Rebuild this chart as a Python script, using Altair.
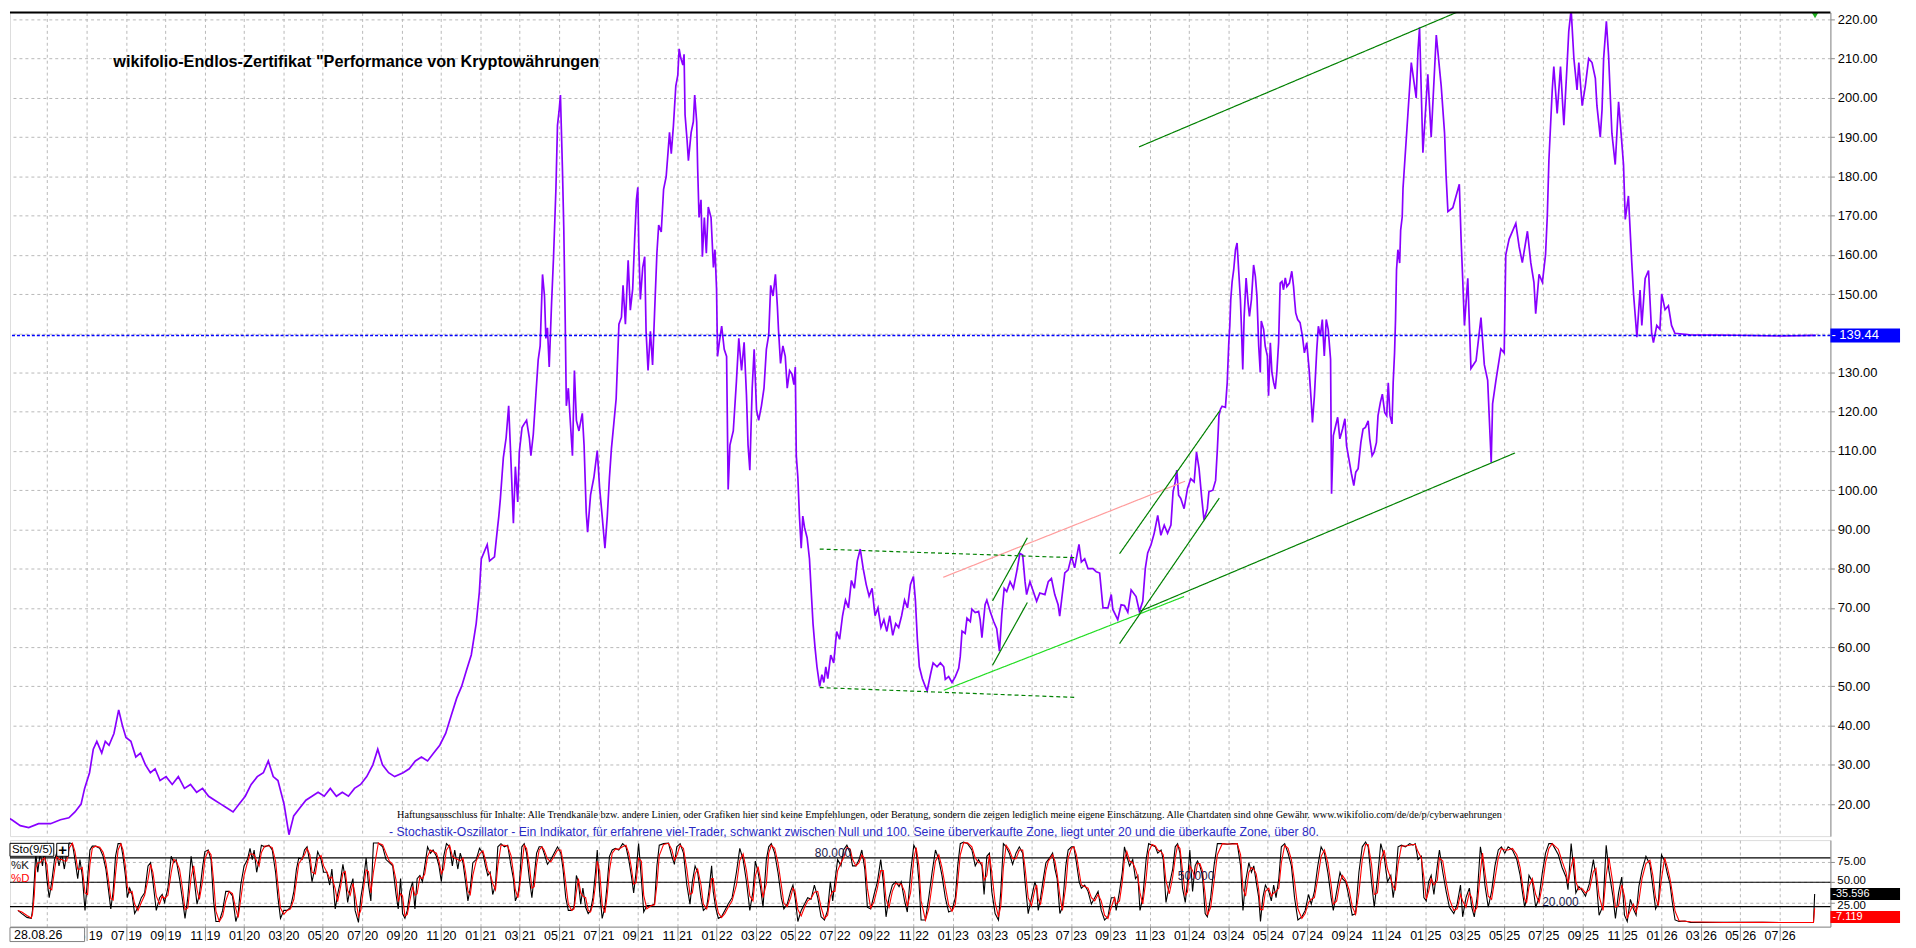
import altair as alt
import pandas as pd

# ---------------- data (x = months since Jan 2019) ----------------
P_2019_2020 = [(-0.17,17),(0.2,16),(0.63,14.5),(1.06,14),(1.56,15),(2.17,15),(2.67,16),(3.1,16.5),(3.41,18),(3.72,20),
 (3.9,24),(4.15,28),(4.34,34),(4.52,36),(4.77,33),(4.95,36),(5.14,35),(5.39,38),(5.63,44),(5.82,40),(6.0,37),(6.25,36),
 (6.5,32),(6.74,33),(6.99,30),(7.24,28),(7.48,29),(7.73,26),(8.04,27),(8.35,25),(8.66,27),(8.97,24),(9.28,25),(9.59,23),
 (9.89,24),(10.2,22),(10.51,21),(10.82,20),(11.13,19),(11.44,18),(11.75,20),(12.06,22),(12.36,25),(12.67,27),(12.98,28),
 (13.23,31),(13.48,27),(13.72,26),(14.03,20),(14.28,12.2),(14.52,17),(14.83,19),(15.14,21),(15.45,22),(15.76,23),(16.07,22),
 (16.38,24),(16.69,22),(16.99,23),(17.3,22),(17.61,24),(17.92,25),(18.23,27),(18.54,30),(18.79,34),(19.03,30),(19.34,28),
 (19.65,27),(20.08,28),(20.39,29),(20.7,31),(21.01,32),(21.32,31),(21.63,33),(21.94,35),(22.24,38),(22.55,43),(22.8,47),
 (23.05,50),(23.29,54),(23.54,58),(23.79,66),(23.95,74)]

P_2021_2022 = [(24.05,82.5),(24.35,86.1),(24.47,82.0),(24.72,83.0),(24.84,88.8),(24.94,93.4),(25.02,97.9),(25.11,104.2),
 (25.17,108.3),(25.31,113.3),(25.44,121.5),(25.56,107.0),(25.68,91.6),(25.78,106.0),(25.90,97.0),(25.98,109.7),(26.12,116.0),
 (26.23,116.9),(26.35,117.8),(26.49,113.3),(26.57,108.8),(26.69,114.2),(26.82,124.2),(26.94,133.2),(27.04,136.8),(27.16,155.0),
 (27.26,149.5),(27.33,138.7),(27.41,141.4),(27.50,131.4),(27.62,147.7),(27.72,159.5),(27.84,176.7),(27.92,193.0),(28.00,196.6),
 (28.07,200.7),(28.17,182.1),(28.24,166.7),(28.31,144.1),(28.37,121.5),(28.47,126.0),(28.59,116.0),(28.68,108.8),(28.78,130.5),
 (28.88,117.8),(29.01,115.1),(29.18,119.6),(29.27,111.5),(29.38,94.3),(29.45,89.3),(29.60,98.8),(29.77,103.3),(29.94,110.1),
 (30.06,100.6),(30.19,93.4),(30.33,85.2),(30.45,93.4),(30.56,103.3),(30.66,110.6),(30.78,116.9),(30.90,123.3),(31.04,142.3),
 (31.17,144.1),(31.25,152.2),(31.37,142.3),(31.51,158.6),(31.62,145.9),(31.74,151.3),(31.84,164.0),(31.93,174.0),(32.00,177.2),
 (32.05,162.2),(32.13,148.6),(32.25,156.8),(32.35,159.5),(32.42,140.5),(32.52,130.5),(32.64,140.5),(32.75,131.9),(32.85,145.0),
 (32.97,160.4),(33.06,167.6),(33.19,165.8),(33.31,176.7),(33.44,179.9),(33.53,185.8),(33.61,191.2),(33.70,185.8),(33.81,193.0),
 (33.93,203.0),(34.03,205.7),(34.10,212.5),(34.18,210.2),(34.29,208.4),(34.35,211.1),(34.40,195.7),(34.50,189.4),(34.57,184.0),
 (34.71,191.2),(34.82,193.9),(34.89,200.7),(34.99,193.9),(35.04,182.1),(35.11,169.5),(35.21,174.0),(35.28,159.5),(35.38,169.5),
 (35.48,160.4),(35.58,172.2),(35.72,169.5),(35.84,156.8),(35.92,161.3),(36.00,151.3),(36.05,134.1),(36.14,137.7),(36.26,141.8),
 (36.39,135.9),(36.51,134.1),(36.59,100.2),(36.68,111.5),(36.85,115.1),(37.01,127.8),(37.13,138.7),(37.27,130.5),(37.40,137.7),
 (37.52,124.2),(37.60,111.5),(37.69,105.1),(37.81,126.0),(37.91,135.9),(38.03,120.5),(38.14,117.8),(38.28,121.5),(38.41,126.0),
 (38.53,135.9),(38.65,139.6),(38.75,152.2),(38.87,149.5),(38.99,155.0),(39.09,146.8),(39.15,140.5),(39.25,132.3),(39.37,136.8),
 (39.49,134.1),(39.59,126.0),(39.71,130.5),(39.83,129.6),(39.93,126.9),(40.00,131.4),(40.05,108.8),(40.13,103.3),(40.21,93.4),
 (40.30,85.2),(40.38,93.4),(40.47,90.5),(40.60,87.9),(40.72,82.5),(40.80,75),(40.90,66),(41.00,60),(41.10,55),(41.24,50),
 (41.35,53),(41.45,51),(41.55,55),(41.65,52),(41.80,58),(41.95,56),(42.10,64),(42.25,62),(42.40,68),(42.55,72),(42.70,70),
 (42.85,77),(43.00,75),(43.15,82),(43.30,85),(43.45,80),(43.60,76),(43.75,73),(43.90,75),(44.05,68),(44.20,70),(44.35,65),
 (44.50,67),(44.65,64),(44.80,68),(44.95,63),(45.10,66),(45.25,65),(45.40,68),(45.55,72),(45.70,70),(45.85,76),(46.00,78),
 (46.10,72),(46.20,62),(46.30,55),(46.45,52),(46.60,50)]

P_2023_2024 = [(46.70,48.9),(46.87,53.1),(47.00,56.0),(47.20,55.0),(47.37,56.0),(47.54,55.0),(47.62,51.8),(47.79,52.5),
 (47.96,51.0),(48.13,52.5),(48.30,54.6),(48.38,57.7),(48.47,64.1),(48.63,63.5),(48.72,67.4),(48.89,66.5),(48.97,69.7),
 (49.14,68.8),(49.31,69.1),(49.39,67.0),(49.48,62.4),(49.64,70.8),(49.73,72.0),(49.90,69.1),(50.07,66.6),(50.23,64.7),
 (50.37,59.0),(50.49,68.3),(50.61,75.0),(50.74,74.2),(50.91,76.7),(51.08,75.0),(51.25,79.3),(51.41,83.9),(51.55,83.5),
 (51.67,76.7),(51.75,73.4),(51.92,76.7),(52.09,74.2),(52.26,71.7),(52.42,73.8),(52.68,73.4),(52.85,76.7),(53.01,77.5),
 (53.18,73.4),(53.35,70.8),(53.43,67.9),(53.52,71.7),(53.69,78.9),(53.86,79.7),(54.03,83.1),(54.19,80.2),(54.41,86.2),
 (54.53,81.7),(54.70,82.5),(54.87,80.0),(55.12,80.0),(55.29,79.2),(55.46,78.9),(55.63,70.0),(55.88,70.0),(56.05,73.4),
 (56.13,69.6),(56.38,67.0),(56.55,70.8),(56.72,70.6),(56.89,68.9),(57.06,74.6),(57.31,72.9),(57.48,69.1),(57.65,71.7),
 (57.78,80.1),(57.90,84.0),(58.07,86.1),(58.23,89.0),(58.41,93.6),(58.57,88.5),(58.74,91.1),(58.91,89.0),(59.08,91.1),
 (59.19,99.6),(59.30,102.1),(59.38,105.1),(59.47,98.7),(59.58,97.9),(59.75,95.3),(59.92,100.4),(60.09,102.9),(60.26,102.1),
 (60.38,109.7),(60.51,105.5),(60.64,98.3),(60.76,92.4),(60.93,95.3),(61.01,99.6),(61.21,100.0),(61.35,102.5),(61.44,110.5),
 (61.52,119.0),(61.60,120.7),(61.68,121.4),(61.85,121.1),(61.94,127.4),(62.02,137.6),(62.07,141.8),(62.12,148.6),(62.19,153.2),
 (62.27,156.2),(62.36,161.3),(62.44,163.0),(62.53,155.3),(62.61,148.6),(62.66,141.8),(62.73,130.8),(62.80,144.3),(62.90,154.1),
 (63.00,147.7),(63.07,144.3),(63.17,148.6),(63.28,157.4),(63.37,154.5),(63.45,149.4),(63.54,136.7),(63.62,130.0),(63.67,143.1),
 (63.79,141.0),(63.87,136.7),(63.98,134.2),(64.04,124.1),(64.13,137.6),(64.21,130.0),(64.30,127.4),(64.38,125.8),(64.46,130.0),
 (64.55,137.6),(64.63,152.8),(64.72,153.2),(64.80,151.1),(64.89,154.1),(64.97,151.9),(65.10,152.8),(65.22,155.8),(65.31,151.9),
 (65.36,148.6),(65.42,145.2),(65.52,143.5),(65.64,142.7),(65.76,139.3),(65.86,135.0),(65.98,137.6),(66.10,130.8),(66.20,123.2),
 (66.27,117.3),(66.37,124.1),(66.49,135.9),(66.57,141.8),(66.67,139.3),(66.77,143.5),(66.87,134.2),(66.97,143.5),(67.07,141.0),
 (67.19,133.4),(67.24,99.1),(67.33,113.9),(67.41,115.6),(67.55,118.6),(67.66,113.1),(67.80,115.6),(67.92,118.2),(68.00,111.4),
 (68.12,108.0),(68.25,104.2),(68.37,101.2),(68.47,104.6),(68.59,105.5),(68.73,112.2),(68.84,115.6),(68.96,116.0),(69.10,117.7),
 (69.18,113.1),(69.30,108.8),(69.40,109.7),(69.52,112.2),(69.60,119.0),(69.72,122.4),(69.82,124.5),(69.94,119.8),(70.04,119.0),
 (70.12,127.4),(70.21,119.0),(70.31,116.9),(70.37,127.4),(70.44,135.0),(70.49,143.5),(70.54,156.2),(70.61,161.3),(70.70,157.9),
 (70.75,166.3),(70.83,169.7)]

P_2025_2026 = [(70.87,177),(71.12,196),(71.29,209),(71.54,200),(71.63,212),(71.71,218),(71.88,186),(72.13,206),(72.30,190),
 (72.56,216),(72.81,203),(72.98,191),(73.06,180),(73.15,171),(73.40,172),(73.73,178),(73.82,164),(73.90,154),(73.99,142),
 (74.16,154),(74.32,131),(74.58,133),(74.83,144),(75.00,132),(75.17,128),(75.35,107),(75.42,122),(75.59,128),(75.84,136),
 (76.01,135),(76.09,160),(76.26,164),(76.60,168),(76.77,162),(76.93,158),(77.19,166),(77.36,158),(77.52,153),(77.61,145),
 (77.78,155),(77.95,153),(78.11,160),(78.20,170),(78.28,184),(78.45,202),(78.53,208),(78.70,196),(78.87,208),(79.04,193),
 (79.21,209),(79.29,217),(79.41,222.5),(79.55,210),(79.71,202),(79.80,209),(79.97,198),(80.13,203),(80.30,210),(80.47,209),
 (80.64,205),(80.72,198),(80.89,190),(80.98,197),(81.06,210),(81.20,219.5),(81.31,211),(81.48,191),(81.65,183),(81.82,199),
 (81.90,194),(82.07,183),(82.16,169),(82.32,175),(82.49,158),(82.58,150),(82.75,139),(82.91,151),(83.00,142),(83.17,154),
 (83.34,156),(83.50,140),(83.59,137.6),(83.76,142),(83.92,141),(84.01,150),(84.18,146),(84.35,147),(84.51,142),(84.68,140),
 (85.44,139.6),(87.80,139.5),(90.07,139.3),(91.84,139.44)]

K_2019_2021 = [(0.51,15.3),(0.71,11.4),(0.97,6.7),(1.19,5.5),(1.25,15),(1.34,50.6),(1.42,85.9),(1.52,62.3),(1.64,85.9),
 (1.76,70.2),(1.86,89.8),(1.98,54.5),(2.10,31),(2.23,50.6),(2.37,78),(2.48,85.9),(2.60,70.2),(2.74,86),(2.87,66.3),(2.99,86),
 (3.12,98.4),(3.28,97.6),(3.41,78),(3.55,54.5),(3.66,78),(3.78,58.4),(3.92,15.3),(4.05,54.5),(4.17,89.8),(4.29,94.5),
 (4.46,94.5),(4.67,91.8),(4.84,82),(4.98,66.3),(5.10,42.7),(5.23,17.2),(5.35,38.8),(5.47,82),(5.60,97.6),(5.74,97.6),
 (5.85,82),(5.97,58.4),(6.07,31),(6.19,42.7),(6.31,34.9),(6.44,11.4),(6.61,19.2),(6.78,31),(6.95,36.9),(7.12,70.2),
 (7.25,74.1),(7.37,50.6),(7.54,15.3),(7.71,31),(7.84,34.9),(7.96,25.1),(8.13,42.7),(8.30,82),(8.43,74.1),(8.55,78),
 (8.72,54.5),(8.88,27),(9.00,5.5),(9.14,31),(9.31,82),(9.44,58.4),(9.61,23.1),(9.73,34.9),(9.90,70.2),(10.01,87.8),
 (10.18,89.8),(10.32,78),(10.45,27),(10.57,1.6),(10.74,1.6),(10.91,15.3),(11.07,38.8),(11.24,38.8),(11.41,33),(11.58,1.6),
 (11.70,11.4),(11.83,46.6),(12.00,70.2),(12.17,78),(12.30,91.8),(12.42,78),(12.51,89.8),(12.64,62.3),(12.76,78),(12.88,95.7),
 (13.05,93.7),(13.26,95.7),(13.43,89.8),(13.60,62.3),(13.72,31),(13.85,5.5),(14.02,15.3),(14.19,15.3),(14.36,19.2),
 (14.53,38.8),(14.66,66.3),(14.78,80),(14.95,78),(15.07,89.8),(15.20,93.7),(15.34,74.1),(15.45,50.6),(15.62,70.2),
 (15.74,87.8),(15.91,78),(16.04,62.3),(16.21,62.3),(16.35,46.6),(16.46,66.3),(16.63,17.2),(16.75,34.9),(16.89,50.6),
 (17.02,72.1),(17.14,54.5),(17.26,25.1),(17.39,42.7),(17.53,54.5),(17.64,15.3),(17.81,0.5),(17.93,31),(18.06,50.6),
 (18.20,80),(18.32,46.6),(18.44,27),(18.57,98.4),(18.82,98.4),(19.04,93.7),(19.21,78),(19.38,74.1),(19.55,70.2),(19.72,34.9),
 (19.83,17.2),(19.95,54.5),(20.05,11.4),(20.17,5.5),(20.29,15.3),(20.42,38.8),(20.56,50.6),(20.68,17.2),(20.79,54.5),
 (20.93,58.4),(21.06,50.6),(21.18,70.2),(21.32,93.7),(21.47,85.9),(21.60,89.8),(21.77,82),(21.90,70.2),(22.02,50.6),
 (22.14,82),(22.28,97.6),(22.44,93.7),(22.58,70.2),(22.70,89.8),(22.86,66.3),(22.98,85.9),(23.12,74.1),(23.25,50.6),
 (23.37,27),(23.49,42.7),(23.62,74.1),(23.79,78),(23.96,91.8),(24.13,85.9),(24.26,70.2),(24.38,58.4),(24.50,62.3),
 (24.63,34.9),(24.77,46.6),(24.89,93.7),(25.05,97.6),(25.22,93.7),(25.39,95.7),(25.56,70.2),(25.68,54.5),(25.78,27),(25.91,34.9)]

K_2021_2023 = [(25.98,46.6),(26.11,93.7),(26.23,97.6),(26.35,85.9),(26.49,54.5),(26.62,31),(26.74,58.4),(26.86,85.9),
 (26.99,93.7),(27.13,93.7),(27.24,85.9),(27.41,72.1),(27.58,78),(27.75,85.9),(27.92,93.7),(28.09,85.9),(28.20,66.3),
 (28.34,31),(28.47,15.3),(28.64,15.3),(28.76,19.2),(28.88,58.4),(28.98,50.6),(29.10,23.1),(29.21,42.7),(29.35,19.2),
 (29.48,11.4),(29.60,15.3),(29.72,31),(29.85,62.3),(29.94,89.8),(30.06,38.8),(30.19,5.5),(30.33,19.2),(30.44,46.6),
 (30.56,82),(30.70,89.8),(30.86,91.8),(31.03,89.8),(31.23,97.6),(31.40,93.7),(31.54,78),(31.67,58.4),(31.79,36.9),
 (31.91,62.3),(32.04,97.6),(32.18,54.5),(32.30,13.3),(32.46,21.2),(32.68,21.2),(32.85,23.1),(32.97,70.2),(33.09,95.7),
 (33.31,97.6),(33.56,98.4),(33.73,82),(33.86,72.1),(33.98,93.7),(34.15,97.6),(34.32,85.9),(34.49,46.6),(34.65,23.1),
 (34.77,50.6),(34.91,70.2),(35.04,62.3),(35.21,31),(35.33,15.3),(35.50,19.2),(35.61,38.8),(35.75,70.2),(35.83,38.8),
 (35.95,19.2),(36.09,5.5),(36.25,7.4),(36.42,15.3),(36.59,23.1),(36.79,31),(37.01,62.3),(37.18,91.8),(37.35,78),
 (37.52,50.6),(37.69,15.3),(37.85,38.8),(37.97,76.1),(38.11,62.3),(38.24,42.7),(38.36,19.2),(38.53,78),(38.65,93.7),
 (38.78,97.6),(38.95,85.9),(39.12,62.3),(39.29,31),(39.42,17.2),(39.59,23.1),(39.76,38.8),(39.88,46.6),(39.99,31),
 (40.13,1.6),(40.30,15.3),(40.47,23.1),(40.63,31),(40.80,29),(40.97,46.6),(41.14,31),(41.31,7.4),(41.48,3.5),(41.64,15.3),
 (41.78,50.6),(41.90,27),(42.01,50.6),(42.15,78),(42.32,70.2),(42.45,89.8),(42.62,95.7),(42.79,85.9),(42.91,70.2),
 (43.08,70.2),(43.24,78),(43.38,89.8),(43.53,66.3),(43.66,19.2),(43.83,17.2),(44.00,34.9),(44.17,50.6),(44.34,78),
 (44.47,50.6),(44.61,7.4),(44.76,31),(44.93,46.6),(45.10,50.6),(45.27,44.7),(45.38,50.6),(45.55,27),(45.69,13.3),
 (45.86,62.3),(46.02,95.7),(46.14,89.8),(46.28,50.6),(46.39,3.5),(46.61,3.5),(46.78,31),(46.95,62.3),(47.12,89.8),
 (47.29,78),(47.45,58.4),(47.62,31),(47.79,13.3),(47.96,15.3),(48.13,31),(48.25,70.2),(48.38,97.6),(48.55,99.6),
 (48.75,97.6),(48.97,89.8),(49.14,70.2),(49.31,78),(49.48,70.2),(49.59,34.9),(49.73,82),(49.86,85.9),(49.98,38.8),
 (50.15,11.4),(50.32,3.5),(50.44,38.8),(50.57,97.6),(50.71,93.7),(50.87,85.9),(51.04,72.1),(51.21,85.9),(51.38,93.7),
 (51.55,85.9),(51.67,50.6),(51.83,11.4),(52.00,31),(52.17,50.6)]

K_2023_2025 = [(52.26,42.7),(52.34,15.3),(52.46,31),(52.60,54.5),(52.73,74.1),(52.85,78),(52.97,82),(53.07,85.9),
 (53.19,66.3),(53.30,54.5),(53.44,11.4),(53.57,19.2),(53.74,70.2),(53.86,89.8),(54.03,93.7),(54.15,93.7),(54.28,74.1),
 (54.42,50.6),(54.53,42.7),(54.70,46.6),(54.87,38.8),(55.04,23.1),(55.21,31),(55.38,38.8),(55.54,15.3),(55.71,3.5),
 (55.88,7.4),(56.05,31),(56.22,31),(56.30,15.3),(56.47,38.8),(56.61,62.3),(56.72,93.7),(56.84,82),(56.98,70.2),(57.14,78),
 (57.28,54.5),(57.40,58.4),(57.51,15.3),(57.65,31),(57.82,78),(57.95,97.6),(58.12,95.7),(58.29,93.7),(58.41,85.9),
 (58.58,89.8),(58.69,78),(58.83,25.1),(59.00,46.6),(59.17,66.3),(59.30,93.7),(59.42,97.6),(59.54,85.9),(59.67,42.7),
 (59.81,25.1),(59.92,50.6),(60.04,89.8),(60.18,38.8),(60.31,70.2),(60.43,76.1),(60.55,70.2),(60.68,58.4),(60.82,11.4),
 (60.93,7.4),(61.10,31),(61.27,70.2),(61.44,97.6),(61.69,97.6),(61.94,96.9),(62.20,97.6),(62.45,97.6),(62.62,70.2),
 (62.74,15.3),(62.87,50.6),(63.04,74.1),(63.17,62.3),(63.29,70.2),(63.41,50.6),(63.54,31),(63.63,1.6),(63.75,31),
 (63.88,46.6),(64.05,38.8),(64.18,27),(64.30,46.6),(64.42,31),(64.56,54.5),(64.69,93.7),(64.86,97.6),(65.03,85.9),
 (65.20,70.2),(65.36,31),(65.53,3.5),(65.73,7.4),(65.90,15.3),(66.07,34.9),(66.21,23.1),(66.37,38.8),(66.54,70.2),
 (66.71,93.7),(66.88,85.9),(67.05,62.3),(67.22,31),(67.33,15.3),(67.50,38.8),(67.67,62.3),(67.79,54.5),(67.96,50.6),
 (68.13,31),(68.29,9.4),(68.46,11.4),(68.63,62.3),(68.80,93.7),(68.97,99.6),(69.10,93.7),(69.27,50.6),(69.41,19.2),
 (69.57,54.5),(69.74,97.6),(69.91,82),(70.08,50.6),(70.25,58.4),(70.37,31),(70.48,50.6),(70.62,93.7),(70.79,95.7),
 (70.99,93.7),(71.21,97.6),(71.38,95.7),(71.49,97.6),(71.63,78),(71.80,82),(71.93,31),(72.05,27),(72.17,50.6),(72.30,58.4),
 (72.44,34.9),(72.61,70.2),(72.72,89.8),(72.89,62.3),(73.06,38.8),(73.23,19.2),(73.45,11.4),(73.62,23.1),(73.79,46.6),
 (73.90,7.4),(74.07,31),(74.24,42.7),(74.36,19.2),(74.49,7.4),(74.63,31),(74.80,93.7),(74.91,78),(75.03,46.6),(75.20,19.2),
 (75.37,38.8),(75.54,70.2),(75.71,89.8),(75.87,93.7),(76.04,85.9),(76.21,93.7),(76.43,89.8),(76.65,78),(76.82,58.4),
 (76.93,38.8),(77.05,19.2),(77.15,31),(77.27,58.4),(77.44,50.6),(77.61,19.2),(77.78,31),(77.95,62.3),(78.11,85.9),
 (78.28,97.6),(78.45,97.6)]

K_2025_2026 = [(78.76,83.9),(78.95,68.2),(79.15,56.5),(79.25,40.8),(79.41,97.6),(79.55,64.3),(79.65,36.9),(79.80,44.7),
 (79.94,40.8),(80.14,32.9),(80.34,48.6),(80.54,78),(80.67,56.5),(80.83,9.4),(81.03,21.2),(81.19,95.7),(81.33,64.3),
 (81.53,32.9),(81.66,5.5),(81.82,36.9),(81.98,56.5),(82.12,9.4),(82.26,1.6),(82.42,29),(82.57,17.2),(82.71,9.4),
 (82.85,44.7),(83.01,64.3),(83.21,81.9),(83.41,72.1),(83.56,44.7),(83.70,17.2),(83.84,25.1),(84.00,83.9),(84.16,76.1),
 (84.30,60.4),(84.43,48.6),(84.55,25.1),(84.69,3.5),(84.89,1.6),(85.19,2.3),(85.48,0.4),(87.16,0.5),(89.14,0.5),
 (91.72,0.3),(91.78,35.596)]

# trend lines drawn on the chart: (style, from month, from value, to month, to value)
TRENDLINES = [("green", 57.46, 187.5, 74.54, 223.8), ("green", 57.48, 69.1, 76.56, 109.5),
              ("lime", 47.54, 49.0, 59.75, 72.9), ("salmon", 47.51, 77.8, 59.80, 102.3),
              ("dash", 41.24, 85.0, 54.19, 82.8), ("dash", 41.24, 49.7, 54.19, 47.2),
              ("green", 50.02, 71.8, 51.79, 87.9), ("green", 50.02, 55.4, 51.79, 71.4),
              ("green", 56.47, 83.8, 61.57, 120.3), ("green", 56.47, 60.9, 61.54, 98.0)]

LAST_PRICE = 139.44
K_LAST = 35.596
D_LAST = 7.119
OSC_LEVELS = [80, 50, 20]
LEVEL_TEXT = ["80.000", "50.000", "20.000"]
LEVEL_TEXT_M = [40.99, 59.43, 77.94]
LEVEL_TEXT_V = [85.9, 57.3, 25.9]
PRICE_TICKS = list(range(20, 221, 10))
OSC_TICKS = [75, 50, 25]
MONTH_TICKS = list(range(2, 91, 2))

TITLE = 'wikifolio-Endlos-Zertifikat "Performance von Kryptowährungen'
DISCLAIMER = ("Haftungsausschluss für Inhalte: Alle Trendkanäle bzw. andere Linien, oder Grafiken hier sind keine "
              "Empfehlungen, oder Beratung, sondern die zeigen lediglich meine eigene Einschätzung. Alle Chartdaten "
              "sind ohne Gewähr.  www.wikifolio.com/de/de/p/cyberwaehrungen")
STOCH_NOTE = ("- Stochastik-Oszillator - Ein Indikator, für erfahrene viel-Trader, schwankt zwischen Null und 100. "
              "Seine überverkaufte Zone, liegt unter 20 und die überkaufte Zone, über 80.")
CURSOR_DATE = "28.08.26"

# ---------------- layout / style ----------------
W, H_MAIN, H_OSC, AX = 1830, 828, 87, 70
X_DOM = [0.109, 92.58]
P_DOM = [11.84, 221.77]
O_DOM = [-4.7, 102.0]
FONT = "Liberation Sans"
GRID = "#b8b8b8"
AXC = "#8c8c8c"

price_df = pd.DataFrame(P_2019_2020 + P_2021_2022 + P_2023_2024 + P_2025_2026, columns=["m", "v"])
k_df = pd.DataFrame(K_2019_2021 + K_2021_2023 + K_2023_2025 + K_2025_2026, columns=["m", "k"])
tl_df = pd.DataFrame(TRENDLINES, columns=["kind", "m1", "v1", "m2", "v2"])
lvl_df = pd.DataFrame({"lvl": OSC_LEVELS, "txt": LEVEL_TEXT, "tm": LEVEL_TEXT_M, "tv": LEVEL_TEXT_V})
one = pd.DataFrame({"a": [0]})

xs = alt.Scale(domain=X_DOM, nice=False, zero=False)
ps = alt.Scale(domain=P_DOM, nice=False, zero=False)
oscs = alt.Scale(domain=O_DOM, nice=False, zero=False)

# identical axis objects on every layer so they merge into one axis each
XA_MAIN = alt.Axis(values=MONTH_TICKS, labels=False, ticks=False, domain=False, grid=True, gridColor=GRID,
                   gridDash=[3, 3], title=None, minExtent=0, maxExtent=0)
YA_MAIN = alt.Axis(orient="right", values=PRICE_TICKS,
                   labelExpr=f"datum.value == {round(LAST_PRICE / 10) * 10} ? '' : format(datum.value, '.2f')",
                   grid=True, gridColor=GRID, gridDash=[3, 3],
                   tickSize=4, tickColor=AXC, domainColor=AXC, labelFont=FONT, labelFontSize=13,
                   labelColor="black", labelPadding=3, title=None, minExtent=AX, maxExtent=AX)
label_expr = ("datum.value < 3 ? '' : (datum.value % 12 + 1 < 10 ? '0' : '') + (datum.value % 12 + 1) + ' ' + "
              "(19 + floor(datum.value / 12))")
XA_OSC = alt.Axis(values=MONTH_TICKS, labelExpr=label_expr, grid=True, gridColor=GRID, gridDash=[3, 3],
                  tickSize=14, tickColor=AXC, domainColor=AXC, labelPadding=-11, labelFont=FONT,
                  labelFontSize=12.5, labelColor="black", labelOverlap=False, labelFlush=False, title=None)
# oscillator axis: ticks + grid from the axis, labels drawn as text marks next to the value boxes
YA_OSC = alt.Axis(orient="right", values=OSC_TICKS, labels=False, grid=True, gridColor=GRID, gridDash=[3, 3],
                  tickSize=4, tickColor=AXC, domainColor=AXC, title=None, minExtent=AX, maxExtent=AX)


def mx(v):
    return alt.XDatum(v, scale=xs, axis=XA_MAIN)


def my(v):
    return alt.YDatum(v, scale=ps, axis=YA_MAIN)


def oy(v):
    return alt.YDatum(v, scale=oscs, axis=YA_OSC)


# ---------------- main panel ----------------
price_line = alt.Chart(price_df).mark_line(color="#8800ff", strokeWidth=1.7, clip=True).encode(
    x=alt.X("m:Q", scale=xs, axis=XA_MAIN), y=alt.Y("v:Q", scale=ps, axis=YA_MAIN))

last_line = alt.Chart(one).mark_rule(color="#0000ff", strokeDash=[3, 2], strokeWidth=1.6).encode(
    y=my(LAST_PRICE))

trend = alt.Chart(tl_df).mark_rule(strokeWidth=1.2, clip=True).encode(
    x=alt.X("m1:Q", scale=xs, axis=XA_MAIN), x2="m2:Q",
    y=alt.Y("v1:Q", scale=ps, axis=YA_MAIN), y2="v2:Q",
    color=alt.Color("kind:N", scale=alt.Scale(domain=["green", "lime", "salmon", "dash"],
                                              range=["#008000", "#22dd22", "#ff9c9c", "#008000"]), legend=None),
    strokeDash=alt.StrokeDash("kind:N", scale=alt.Scale(domain=["green", "lime", "salmon", "dash"],
                                                        range=[[1, 0], [1, 0], [1, 0], [4, 3]]), legend=None),
)

top_line = alt.Chart(one).mark_rule(color="black", strokeWidth=2).encode(y=alt.value(0))

title_txt = alt.Chart(one).mark_text(text=TITLE, font=FONT, fontSize=16.3, fontWeight="bold", color="black",
                                     align="left", baseline="middle").encode(x=mx(5.36), y=my(209.1))

disc_txt = alt.Chart(one).mark_text(text=DISCLAIMER, font="Liberation Serif", fontSize=10.25, color="black",
                                    align="left", baseline="middle").encode(x=mx(19.77), y=my(17.2))

stoch_txt = alt.Chart(one).mark_text(text=STOCH_NOTE, font=FONT, fontSize=12.3, color="#2b2bc4",
                                     align="left", baseline="middle").encode(x=mx(19.36), y=my(12.9))

price_box = alt.Chart(one).mark_rule(color="#0000ff", strokeWidth=14).encode(
    x=alt.value(W), x2=alt.value(W + AX), y=my(LAST_PRICE))
price_box_txt = alt.Chart(one).mark_text(text="- " + f"{LAST_PRICE:.2f}", font=FONT, fontSize=13, color="white",
                                         align="left", baseline="middle").encode(x=alt.value(W + 1),
                                                                                y=my(LAST_PRICE))

marker = alt.Chart(one).mark_point(shape="triangle-down", filled=True, color="#20b020", size=45,
                                   opacity=1).encode(x=mx(91.8), y=my(221.0))

main = alt.layer(price_line, trend, last_line, title_txt, disc_txt, stoch_txt,
                 price_box, price_box_txt, marker, top_line).properties(width=W, height=H_MAIN)

# ---------------- oscillator panel ----------------
k_line = alt.Chart(k_df).mark_line(color="black", strokeWidth=1.1, clip=True).encode(
    x=alt.X("m:Q", scale=xs, axis=XA_OSC), y=alt.Y("k:Q", scale=oscs, axis=YA_OSC))

d_line = alt.Chart(k_df).transform_window(
    d="mean(k)", frame=[-1, 0], sort=[alt.SortField("m")]
).mark_line(color="#ff0000", strokeWidth=1.1, clip=True).encode(
    x=alt.X("m:Q", scale=xs, axis=XA_OSC), y=alt.Y("d:Q", scale=oscs, axis=YA_OSC))

levels = alt.Chart(lvl_df).mark_rule(color="black", strokeWidth=1.2).encode(
    y=alt.Y("lvl:Q", scale=oscs, axis=YA_OSC))

level_txt = alt.Chart(lvl_df).mark_text(font=FONT, fontSize=12, color="#1e1e50", align="left",
                                        baseline="middle").encode(
    x=alt.X("tm:Q", scale=xs, axis=XA_OSC), y=alt.Y("tv:Q", scale=oscs, axis=YA_OSC), text="txt:N")

# oscillator scale labels (75.00 / 50.00 / 25.00), nudged clear of the value boxes
osc_labels = []
for val, nudge in zip(OSC_TICKS, [0, -1.5, 3]):
    osc_labels.append(alt.Chart(one).mark_text(text=f"{val:.2f}", font=FONT, fontSize=11.5, color="black",
                                               align="left", baseline="middle", dy=nudge).encode(
        x=alt.value(W + 7), y=oy(val)))

sto_box = alt.Chart(one).mark_rect(fill="white", stroke="black", strokeWidth=1).encode(
    x=alt.value(0), x2=alt.value(44), y=oy(98.0), y2=alt.Y2Datum(82.0))
plus_box = alt.Chart(one).mark_rect(fill="white", stroke="black", strokeWidth=1).encode(
    x=alt.value(47), x2=alt.value(59), y=oy(98.0), y2=alt.Y2Datum(82.0))
sto_txt = alt.Chart(one).mark_text(text="Sto(9/5)", font=FONT, fontSize=11.5, color="black", align="left",
                                   baseline="middle").encode(x=alt.value(2), y=oy(90.0))
plus_txt = alt.Chart(one).mark_text(text="+", font=FONT, fontSize=15, fontWeight="bold", color="black",
                                    align="center", baseline="middle").encode(x=alt.value(53), y=oy(90.0))
k_lab = alt.Chart(one).mark_text(text="%K", font=FONT, fontSize=11.5, color="#202020", align="left",
                                 baseline="middle").encode(x=alt.value(1), y=oy(70.5))
d_lab = alt.Chart(one).mark_text(text="%D", font=FONT, fontSize=11.5, color="#ff0000", align="left",
                                 baseline="middle").encode(x=alt.value(1), y=oy(53.5))

k_box = alt.Chart(one).mark_rule(color="black", strokeWidth=12).encode(
    x=alt.value(W), x2=alt.value(W + AX), y=oy(K_LAST))
k_box_txt = alt.Chart(one).mark_text(text="-" + f"{K_LAST:.3f}", font=FONT, fontSize=11, color="white",
                                     align="left", baseline="middle").encode(x=alt.value(W + 2), y=oy(K_LAST))
d_box = alt.Chart(one).mark_rule(color="#ff0000", strokeWidth=12).encode(
    x=alt.value(W), x2=alt.value(W + AX), y=oy(D_LAST))
d_box_txt = alt.Chart(one).mark_text(text="-" + f"{D_LAST:.3f}", font=FONT, fontSize=11, color="white",
                                     align="left", baseline="middle").encode(x=alt.value(W + 2), y=oy(D_LAST))

date_box = alt.Chart(one).mark_rect(fill="white", stroke="#808080", strokeWidth=1).encode(
    x=alt.value(0), x2=alt.value(75), y=alt.value(H_OSC + 1), y2=alt.value(H_OSC + 15))
date_txt = alt.Chart(one).mark_text(text=CURSOR_DATE, font=FONT, fontSize=12.5, color="black", align="left",
                                    baseline="middle").encode(x=alt.value(4), y=alt.value(H_OSC + 8.5))

osc = alt.layer(k_line, levels, d_line, level_txt, *osc_labels, sto_box, plus_box, sto_txt, plus_txt, k_lab,
                d_lab, k_box, k_box_txt, d_box, d_box_txt, date_box, date_txt).properties(width=W, height=H_OSC)

chart = alt.vconcat(main, osc, spacing=0).properties(padding=0).configure_view(
    stroke="#9a9a9a", strokeWidth=1).configure(background="white")

chart.save("out.html", embed_options={"renderer": "svg", "actions": False})
